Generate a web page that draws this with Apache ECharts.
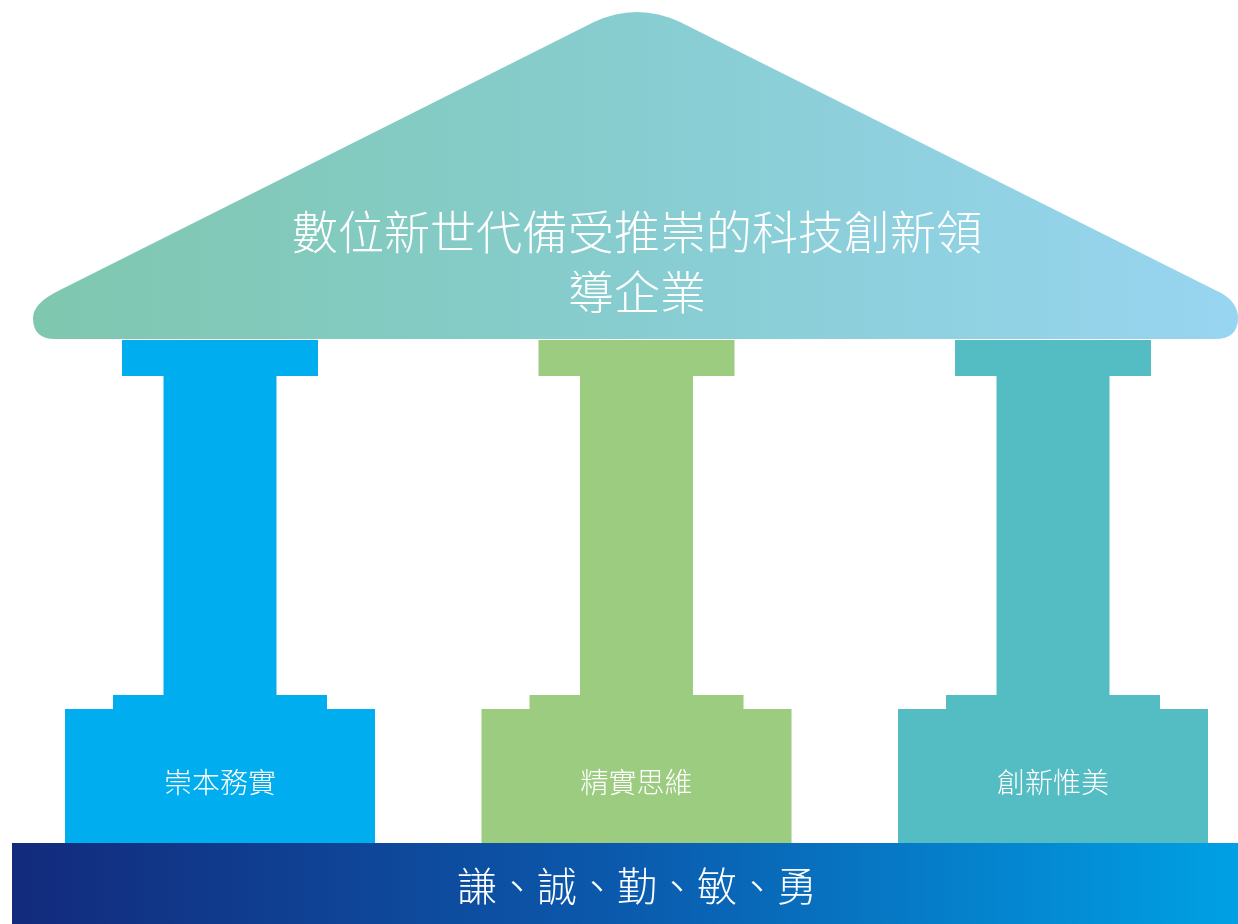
<!DOCTYPE html>
<html><head><meta charset="utf-8">
<script src="https://cdn.jsdelivr.net/npm/echarts@6/dist/echarts.min.js"></script>
<style>html,body{margin:0;padding:0;background:#fff}#c{width:1238px;height:924px}</style>
</head><body><div id="c"></div>
<script>
// ---- content ----
const pillars = ['崇本務實', '精實思維', '創新惟美'];
const pillarIndex = [0, 1, 2];
const roofLines = ['數位新世代備受推崇的科技創新領', '導企業'];
const foundation = '謙、誠、勤、敏、勇';

// ---- styles ----
const pillarColors = ['#00adee', '#9bcc7f', '#53bdc3'];
const FONT = '"Noto Sans CJK TC", "Noto Sans CJK SC", sans-serif';

function hGrad(stops) {
  return {type: 'linear', x: 0, y: 0, x2: 1, y2: 0, global: false,
    colorStops: stops.map(s => ({offset: s[0], color: s[1]}))};
}

const chart = echarts.init(document.getElementById('c'), null, {renderer: 'canvas'});

// layout levels (pixels from top)
const L = {roofBottom: 339, capTop: 340, capBottom: 376, shaftBottom: 695, stepBottom: 709, baseBottom: 843, label: 782};
const HW = {cap: 98, shaft: 56.5, step: 107, base: 155};

function renderPillar(params, api) {
  const idx = api.value(0);
  const cx = api.coord([idx, 0])[0];
  const y = v => api.coord([idx, v])[1];
  const pts = [
    [cx - HW.cap, y(L.capTop)], [cx + HW.cap, y(L.capTop)],
    [cx + HW.cap, y(L.capBottom)], [cx + HW.shaft, y(L.capBottom)],
    [cx + HW.shaft, y(L.shaftBottom)], [cx + HW.step, y(L.shaftBottom)],
    [cx + HW.step, y(L.stepBottom)], [cx + HW.base, y(L.stepBottom)],
    [cx + HW.base, y(L.baseBottom)], [cx - HW.base, y(L.baseBottom)],
    [cx - HW.base, y(L.stepBottom)], [cx - HW.step, y(L.stepBottom)],
    [cx - HW.step, y(L.shaftBottom)], [cx - HW.shaft, y(L.shaftBottom)],
    [cx - HW.shaft, y(L.capBottom)], [cx - HW.cap, y(L.capBottom)]
  ];
  return {
    type: 'group',
    children: [
      {type: 'polygon', shape: {points: pts}, style: {fill: pillarColors[idx]}},
      {type: 'text', x: cx, y: y(L.label), style: {
        text: pillars[idx], fill: '#fff', font: '300 28px ' + FONT,
        align: 'center', verticalAlign: 'middle'}}
    ]
  };
}

const roofPath = 'M55,339 L1215,339 Q1238,339 1238,318 Q1238,300 1215,290 L680,22 Q637,2 594,22 L60,290 Q33,303 33,318 Q33,339 55,339 Z';

function renderRoof(params, api) {
  return {
    type: 'group',
    children: [
      {type: 'path', shape: {pathData: roofPath},
        style: {fill: hGrad([[0, '#7fc7ae'], [0.5, '#87cdd0'], [1, '#98d5f1']])}},
      {type: 'text', x: 637, y: 232, style: {text: roofLines[0], fill: '#fff',
        font: '300 46px ' + FONT, align: 'center', verticalAlign: 'middle'}},
      {type: 'text', x: 637, y: 292, style: {text: roofLines[1], fill: '#fff',
        font: '300 46px ' + FONT, align: 'center', verticalAlign: 'middle'}}
    ]
  };
}

function renderBase(params, api) {
  return {
    type: 'group',
    children: [
      {type: 'rect', shape: {x: 12, y: 843, width: 1226, height: 81},
        style: {fill: hGrad([[0, '#132a7c'], [0.5, '#0b5aad'], [1, '#00a0e4']])}},
      {type: 'text', x: 637, y: 886, style: {text: foundation, fill: '#fff',
        font: '300 40px ' + FONT, align: 'center', verticalAlign: 'middle'}}
    ]
  };
}

chart.setOption({
  animation: false,
  grid: {left: 220, right: 185, top: 0, bottom: 0},
  xAxis: {type: 'value', min: 0, max: 2, show: false},
  yAxis: {type: 'value', min: 0, max: 924, inverse: true, show: false},
  series: [
    {type: 'custom', renderItem: renderRoof, data: [[0]], z: 1, clip: false},
    {type: 'custom', renderItem: renderPillar, data: pillarIndex.map(i => [i]), z: 2, clip: false},
    {type: 'custom', renderItem: renderBase, data: [[0]], z: 3, clip: false}
  ]
});
</script>
</body></html>
